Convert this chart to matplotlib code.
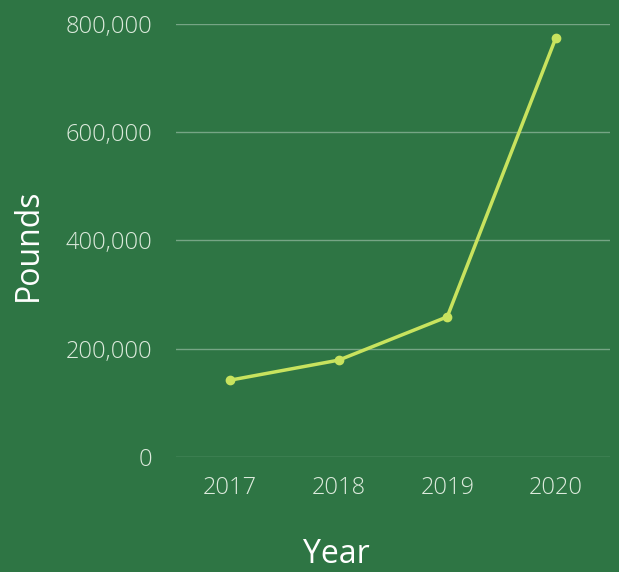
import matplotlib
matplotlib.use("Agg")
import matplotlib.pyplot as plt
from matplotlib.ticker import FuncFormatter

years = ["2017", "2018", "2019", "2020"]
pounds = [142000, 179000, 259000, 774000]
yticks = [0, 200000, 400000, 600000, 800000]

bg = "#2E7544"
line_c = "#C8E35E"
text_c = "#DCEADC"

plt.rcParams['font.family'] = ['Open Sans', 'DejaVu Sans']

fig = plt.figure(figsize=(6.19, 5.72), dpi=100, facecolor=bg)
ax = fig.add_axes([176/619, (572-457)/572, (610-176)/619, (457-24)/572])
ax.set_facecolor(bg)

x = list(range(len(years)))
ax.plot(x, pounds, color=line_c, lw=2.5, marker='o', ms=6, zorder=3)
ax.set_xlim(-0.5, len(years) - 0.5)
ax.set_ylim(0, 800000)
ax.set_xticks(x)
ax.set_xticklabels(years)
ax.set_yticks(yticks)
ax.yaxis.set_major_formatter(FuncFormatter(lambda v, p: f"{int(v):,}"))
ax.grid(axis='y', color='white', alpha=0.35, lw=1)
ax.set_axisbelow(True)
for s in ax.spines.values():
    s.set_visible(False)
ax.tick_params(axis='both', length=0, colors=text_c, labelsize=17)
for lab in ax.get_xticklabels() + ax.get_yticklabels():
    lab.set_fontweight('light')
ax.tick_params(axis='y', pad=17)
ax.tick_params(axis='x', pad=14)
fig.text(28/619, 1 - 245/572, "Pounds", color="white", fontsize=23,
         rotation=90, ha='center', va='center')
fig.text(336/619, 1/572, "Year", color="white", fontsize=23,
         ha='center', va='bottom')

fig.savefig("out.png", dpi=100, facecolor=bg)
